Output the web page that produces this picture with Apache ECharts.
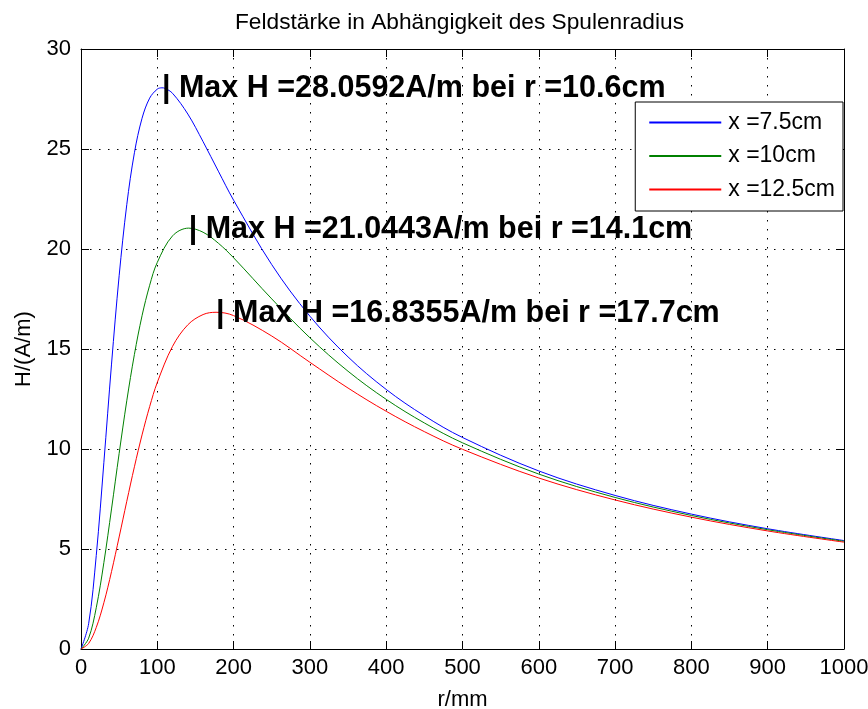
<!DOCTYPE html>
<html>
<head>
<meta charset="utf-8">
<script src="https://cdn.jsdelivr.net/npm/echarts@6/dist/echarts.min.js"></script>
<style>html,body{margin:0;padding:0;background:#fff}#c{width:868px;height:709px}</style>
</head>
<body>
<div id="c"></div>
<script>
// r in mm, H in A/m
const rBlue = [0,10,20,30,40,50,60,70,80,90,100,106,110,120,140,160,180,200,250,300,350,400,450,500,600,700,800,900,1000];
const hBlue = [0,1.262,4.677,9.336,14.245,18.663,22.215,24.811,26.536,27.543,27.994,28.059,28.035,27.784,26.748,25.367,23.891,22.441,19.218,16.641,14.604,12.978,11.661,10.576,8.903,7.678,6.745,6.012,5.422];
const rGreen = [0,10,20,30,40,50,60,70,80,90,100,120,141,160,180,200,250,300,350,400,450,500,600,700,800,900,1000];
const hGreen = [0,0.539,2.062,4.324,7.002,9.781,12.410,14.730,16.661,18.187,19.331,20.657,21.044,20.838,20.290,19.561,17.505,15.561,13.887,12.481,11.303,10.310,8.746,7.578,6.677,5.964,5.386];
const rRed = [0,10,20,30,40,50,60,70,80,90,100,120,140,160,177,200,250,300,350,400,450,500,600,700,800,900,1000];
const hRed = [0,0.277,1.078,2.316,3.870,5.602,7.384,9.111,10.705,12.119,13.329,15.133,16.210,16.722,16.836,16.670,15.649,14.335,13.047,11.886,10.868,9.985,8.550,7.452,6.592,5.903,5.342];

const seriesNames = ['x =7.5cm', 'x =10cm', 'x =12.5cm'];
const seriesColors = ['#0000ff', '#008000', '#ff0000'];
const peakR = [106, 141, 177];
const peakH = [28.0592, 21.0443, 16.8355];
const peakLabels = ['| Max H =28.0592A/m bei r =10.6cm', '| Max H =21.0443A/m bei r =14.1cm', '| Max H =16.8355A/m bei r =17.7cm'];

const titleText = 'Feldstärke in Abhängigkeit des Spulenradius';
const xName = 'r/mm';
const yName = 'H/(A/m)';

const FONT = '"Liberation Sans", Arial, sans-serif';
const rs = [rBlue, rGreen, rRed];
const hs = [hBlue, hGreen, hRed];

const series = seriesNames.map((name, i) => ({
  name: name,
  type: 'line',
  xAxisIndex: 0,
  yAxisIndex: 0,
  data: rs[i].map((r, k) => [r, hs[i][k]]),
  showSymbol: false,
  symbol: 'none',
  smooth: 0.35,
  lineStyle: { color: seriesColors[i], width: 1 },
  itemStyle: { color: seriesColors[i] },
  animation: false,
  z: 3,
  markPoint: {
    symbol: 'circle',
    symbolSize: 0.1,
    silent: true,
    animation: false,
    data: [{ coord: [peakR[i], peakH[i]] }],
    label: {
      show: true,
      position: 'right',
      distance: 0,
      offset: [0, 1],
      formatter: peakLabels[i],
      color: '#000',
      fontFamily: FONT,
      fontWeight: 'bold',
      fontSize: 30.5
    }
  }
}));

const gridLine = { show: true, lineStyle: { color: '#000', width: 1, type: [1.5, 7.5] } };
const axisLine = { show: true, onZero: false, lineStyle: { color: '#000', width: 1 } };
const tick = { show: true, inside: true, length: 8, lineStyle: { color: '#000', width: 1 } };

const chart = echarts.init(document.getElementById('c'), null, { renderer: 'canvas' });
chart.setOption({
  animation: false,
  backgroundColor: '#fff',
  title: {
    text: titleText,
    left: 235,
    top: 11,
    padding: 0,
    textStyle: { fontFamily: FONT, fontWeight: 'normal', fontSize: 22.7, color: '#000' }
  },
  legend: {
    orient: 'vertical',
    right: 25,
    top: 102,
    padding: [9, 8, 10, 14],
    itemGap: 10.5,
    itemWidth: 72,
    itemHeight: 2,
    icon: 'rect',
    backgroundColor: '#fff',
    borderColor: '#000',
    borderWidth: 1,
    borderRadius: 0,
    data: seriesNames,
    textStyle: { fontFamily: FONT, fontSize: 23, color: '#000', lineHeight: 22, padding: [0, 0, 0, 2] }
  },
  grid: { left: 81, right: 24, top: 49, bottom: 60, containLabel: false, outerBoundsMode: 'none' },
  xAxis: [{
    type: 'value', min: 0, max: 1000, interval: 100, position: 'bottom',
    name: xName, nameLocation: 'middle', nameGap: 40,
    nameTextStyle: { fontFamily: FONT, fontSize: 22, color: '#000' },
    axisLine: axisLine, axisTick: tick, splitLine: gridLine,
    axisLabel: { fontFamily: FONT, fontSize: 22, color: '#000', margin: 8, formatter: v => String(v) }
  }, {
    type: 'value', min: 0, max: 1000, interval: 100, position: 'top',
    axisLine: axisLine, axisTick: tick, splitLine: { show: false }, axisLabel: { show: false }
  }],
  yAxis: [{
    type: 'value', min: 0, max: 30, interval: 5, position: 'left',
    name: yName, nameLocation: 'middle', nameGap: 46, nameRotate: 90,
    nameTextStyle: { fontFamily: FONT, fontSize: 22, color: '#000' },
    axisLine: axisLine, axisTick: tick, splitLine: gridLine,
    axisLabel: { fontFamily: FONT, fontSize: 22, color: '#000', margin: 10, formatter: v => String(v) }
  }, {
    type: 'value', min: 0, max: 30, interval: 5, position: 'right',
    axisLine: axisLine, axisTick: tick, splitLine: { show: false }, axisLabel: { show: false }
  }],
  series: series
});
</script>
</body>
</html>
